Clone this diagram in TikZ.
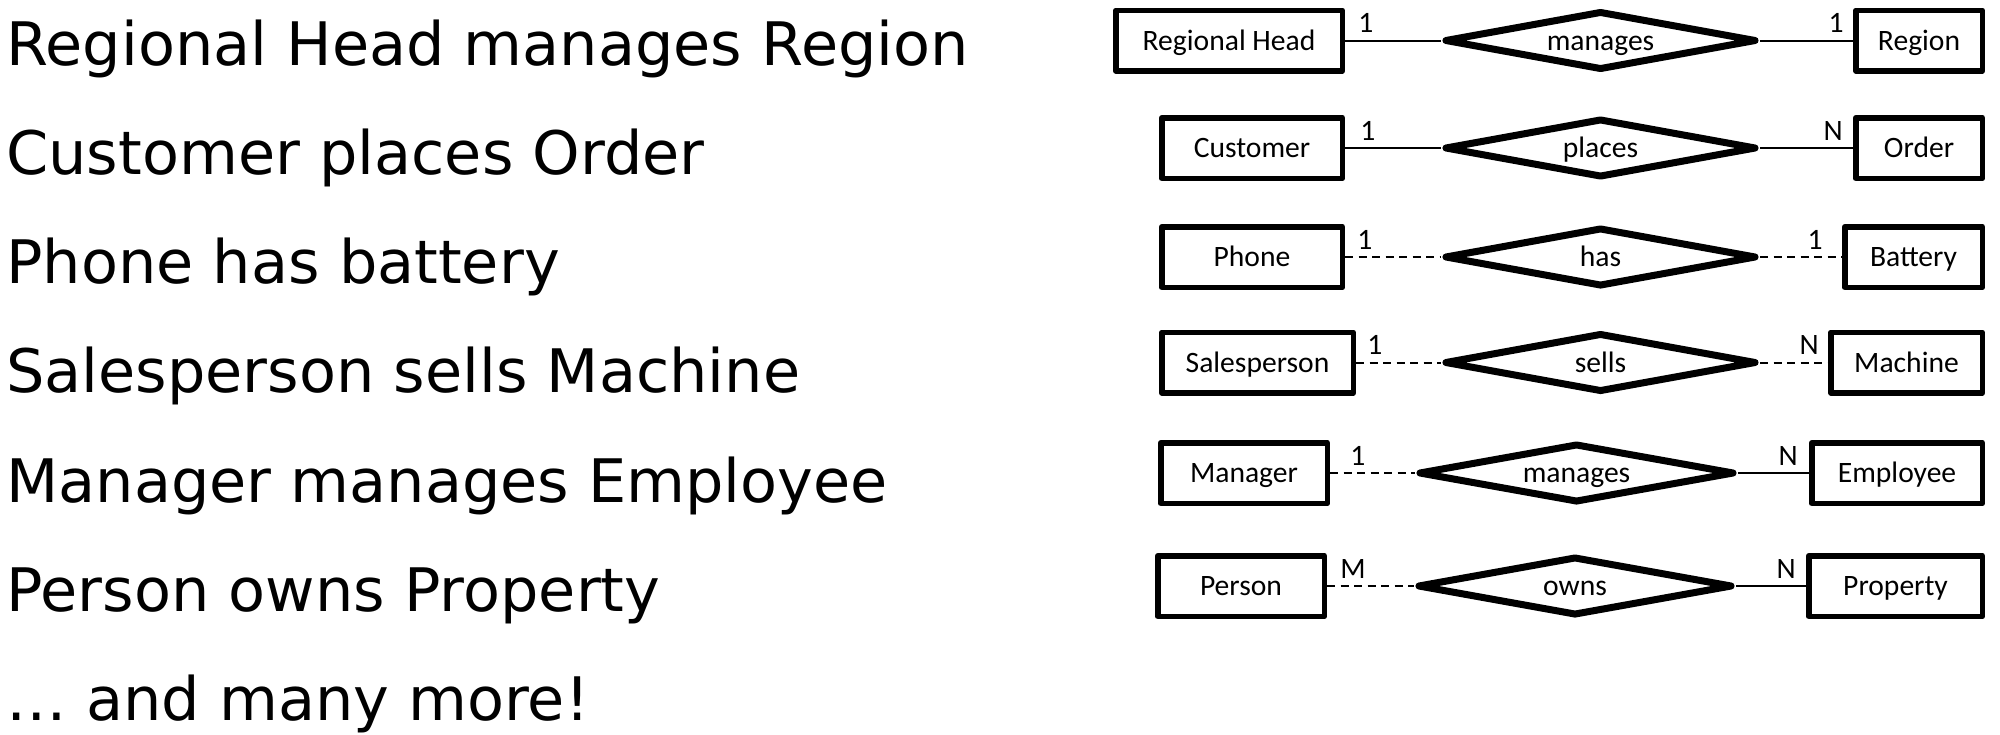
\documentclass[tikz,border=0pt]{standalone}
\usepackage{fontspec}
\usetikzlibrary{shapes.geometric}
\newfontfamily\djv[FakeStretch=1.008]{DejaVu Sans}
\newfontfamily\carl{Carlito}
\begin{document}
\begin{tikzpicture}[x=0.5pt,y=-0.5pt,
  sent/.style={anchor=base west, inner sep=0pt, font=\djv\fontsize{30pt}{36pt}\selectfont},
  entity/.style={draw, line width=2.75pt, line join=round, minimum height=30.25pt, inner sep=0pt,
    font=\carl\fontsize{14.8pt}{17pt}\selectfont, text height=9.5pt, text depth=0pt},
  rel/.style={draw, diamond, line width=3.5pt, line join=round, aspect=5, minimum width=156pt,
    minimum height=29.5pt, inner sep=0pt, font=\carl\fontsize{14.8pt}{17pt}\selectfont,
    text height=9.5pt, text depth=0pt},
  conn/.style={line width=1pt},
  dconn/.style={conn, dash pattern=on 4pt off 2.75pt},
  cardl/.style={anchor=base west, inner sep=0pt, font=\carl\fontsize{14.8pt}{17pt}\selectfont},
  cardr/.style={anchor=base east, inner sep=0pt, font=\carl\fontsize{14.8pt}{17pt}\selectfont}
]
\useasboundingbox (0,0) rectangle (2000,734);

% left sentences
\node[sent] (s1) at (6,65)    {Regional Head manages Region};
\node[sent] (s2) at (6,174.3) {Customer places Order};
\node[sent] (s3) at (6,283.6) {Phone has battery};
\node[sent] (s4) at (6,392.9) {Salesperson sells Machine};
\node[sent] (s5) at (6,502.2) {Manager manages Employee};
\node[sent] (s6) at (6,611.5) {Person owns Property};
\node[sent] (s7) at (6,720.8) {… and many more!};

% row 1
\node[entity, minimum width=113.25pt] (rh) at (1229,40.5) {Regional Head};
\node[rel] (d1) at (1600.5,40.5) {manages};
\node[entity, minimum width=63.25pt] (reg) at (1919,40.5) {Region};
\draw[conn] (rh.east) -- (d1.west);
\draw[conn] (d1.east) -- (reg.west);
\node[cardl] (c1l) at (1358,32.5) {1};
\node[cardr] (c1r) at (1844,32.5) {1};

% row 2
\node[entity, minimum width=90.25pt] (cus) at (1252,148) {Customer};
\node[rel] (d2) at (1600.5,148) {places};
\node[entity, minimum width=63.25pt] (ord) at (1919,148) {Order};
\draw[conn] (cus.east) -- (d2.west);
\draw[conn] (d2.east) -- (ord.west);
\node[cardl] (c2l) at (1360,140) {1};
\node[cardr] (c2r) at (1843,140) {N};

% row 3
\node[entity, minimum width=90.25pt] (pho) at (1252,257) {Phone};
\node[rel] (d3) at (1600.5,257) {has};
\node[entity, minimum width=68.75pt] (bat) at (1913.5,257) {Battery};
\draw[dconn] (pho.east) -- (d3.west);
\draw[dconn] (d3.east) -- (bat.west);
\node[cardl] (c3l) at (1357,249) {1};
\node[cardr] (c3r) at (1823,249) {1};

% row 4
\node[entity, minimum width=95.75pt] (sal) at (1257.5,362.5) {Salesperson};
\node[rel] (d4) at (1600.5,362.5) {sells};
\node[entity, minimum width=75.75pt] (mac) at (1906.5,362.5) {Machine};
\draw[dconn] (sal.east) -- (d4.west);
\draw[dconn] (d4.east) -- (mac.west);
\node[cardl] (c4l) at (1367,354.5) {1};
\node[cardr] (c4r) at (1819,354.5) {N};

% row 5
\node[entity, minimum width=83.25pt] (man) at (1244,473) {Manager};
\node[rel, minimum width=158pt] (d5) at (1576.5,473) {manages};
\node[entity, minimum width=85.25pt] (emp) at (1897,473) {Employee};
\draw[dconn] (man.east) -- (d5.west);
\draw[conn] (d5.east) -- (emp.west);
\node[cardl] (c5l) at (1350,465) {1};
\node[cardr] (c5r) at (1798,465) {N};

% row 6
\node[entity, minimum width=83.25pt] (per) at (1241,586) {Person};
\node[rel, minimum width=157.5pt] (d6) at (1575,586) {owns};
\node[entity, minimum width=86.75pt] (pro) at (1895.5,586) {Property};
\draw[dconn] (per.east) -- (d6.west);
\draw[conn] (d6.east) -- (pro.west);
\node[cardl] (c6l) at (1340,578) {M};
\node[cardr] (c6r) at (1796,578) {N};
\end{tikzpicture}
\end{document}
